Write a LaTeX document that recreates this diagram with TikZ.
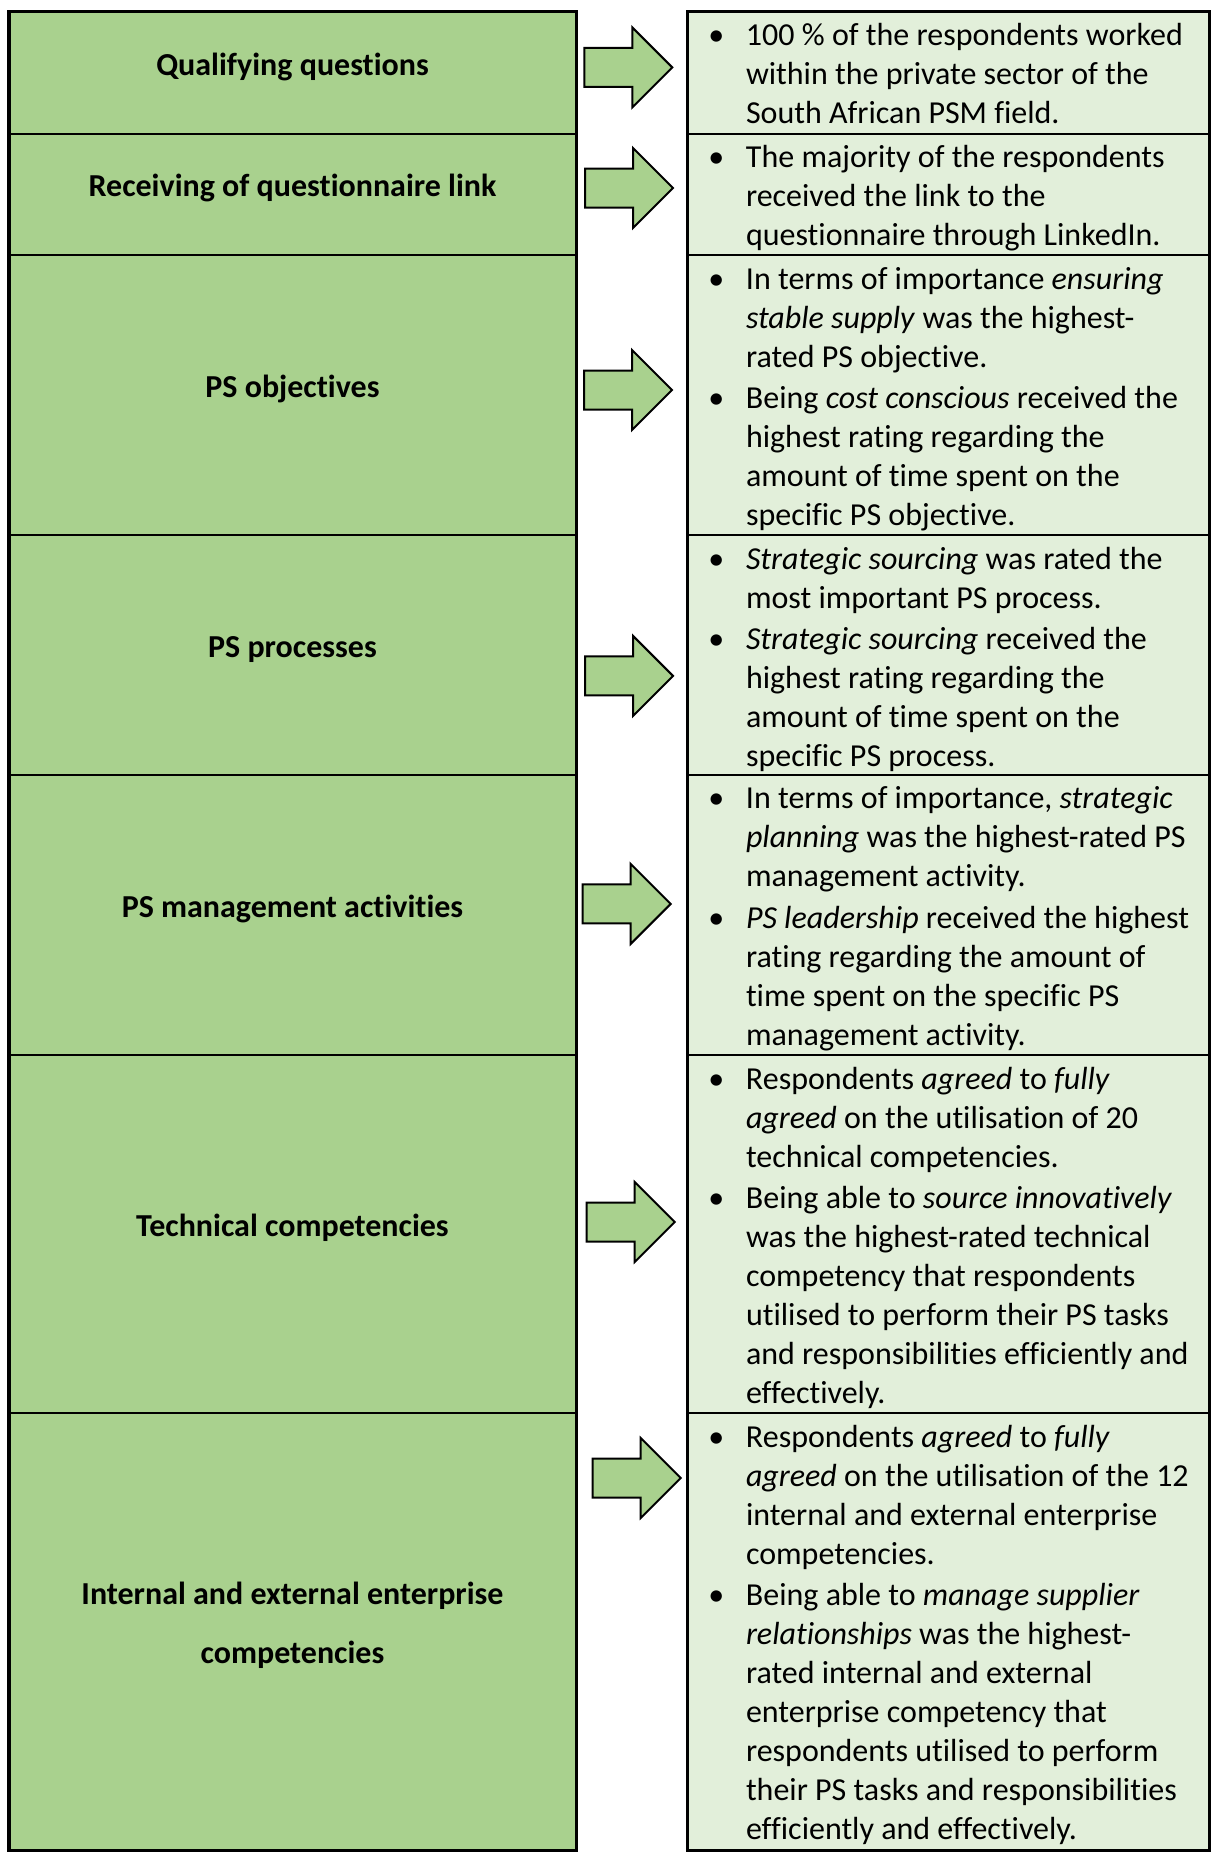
\documentclass[tikz,border=0pt]{standalone}
\usepackage{fontspec}
\setmainfont{Carlito}[Ligatures={NoCommon,NoContextual,NoRequired,NoRare}]
\usetikzlibrary{fit}
\definecolor{cellgreen}{HTML}{A9D18E}
\definecolor{palegreen}{HTML}{E2EFDA}
% bullet column of the findings lists
\newcommand{\blt}{\makebox[22.8pt][l]{\makebox[16pt]{\textbullet}}}
\newcommand{\gap}{\\[1.3pt]}

\begin{document}
\begin{tikzpicture}[x=0.5pt,y=-0.5pt,
  leftcell/.style={draw=black, line width=1pt, fill=cellgreen, inner sep=0pt},
  rightcell/.style={draw=black, line width=1pt, fill=palegreen, inner sep=0pt},
  heading/.style={font=\fontsize{16}{29.5}\selectfont\bfseries, align=center, anchor=base, inner sep=0pt, yshift=-1.2pt},
  notes/.style={font=\fontsize{16}{19.5}\selectfont, anchor=north west, inner sep=0pt},
  frame/.style={draw=black, line width=1.3pt},
  fatarrow/.pic={\draw[line width=1pt, fill=cellgreen, line join=miter]
     (0,-19.5) -- (48,-19.5) -- (48,-40) -- (88,0) -- (48,40) -- (48,19.5) -- (0,19.5) -- cycle;}
]
\useasboundingbox (0,0) rectangle (1210,1852);

% topic column
\node[leftcell, fit={(9.5,12) (575.5,133.5)}]     (l1) {};
\node[leftcell, fit={(9.5,133.5) (575.5,255.2)}]  (l2) {};
\node[leftcell, fit={(9.5,255.2) (575.5,535.3)}]  (l3) {};
\node[leftcell, fit={(9.5,535.3) (575.5,775.1)}]  (l4) {};
\node[leftcell, fit={(9.5,775.1) (575.5,1055.2)}] (l5) {};
\node[leftcell, fit={(9.5,1055.2) (575.5,1413.2)}](l6) {};
\node[leftcell, fit={(9.5,1413.2) (575.5,1850)}]  (l7) {};
\draw[frame] (l1.north west) rectangle (l7.south east);

% findings column
\node[rightcell, fit={(688.3,12) (1208.8,133.5)}]     (r1) {};
\node[rightcell, fit={(688.3,133.5) (1208.8,255.2)}]  (r2) {};
\node[rightcell, fit={(688.3,255.2) (1208.8,535.3)}]  (r3) {};
\node[rightcell, fit={(688.3,535.3) (1208.8,775.1)}]  (r4) {};
\node[rightcell, fit={(688.3,775.1) (1208.8,1055.2)}] (r5) {};
\node[rightcell, fit={(688.3,1055.2) (1208.8,1413.2)}](r6) {};
\node[rightcell, fit={(688.3,1413.2) (1208.8,1850)}]  (r7) {};
\draw[frame] (r1.north west) rectangle (r7.south east);

% topic headings
\node[heading] (h1) at (l1.center) {Qualifying questions};
\node[heading] (h2) at (l2.center) {Receiving of questionnaire link};
\node[heading] (h3) at (l3.center) {PS objectives};
\node[heading] (h4) at (l4.center) {PS processes};
\node[heading] (h5) at (l5.center) {PS management activities};
\node[heading] (h6) at (l6.center) {Technical competencies};
\node[heading] (h7) at ([yshift=-14.75pt]l7.center) {Internal and external enterprise\\competencies};

% arrows
\pic at (584.3,67.4)  {fatarrow};
\pic at (585,188)     {fatarrow};
\pic at (584,390)     {fatarrow};
\pic at (585,675.9)   {fatarrow};
\pic at (582.7,903.9) {fatarrow};
\pic at (586.7,1222)  {fatarrow};
\pic at (592.7,1478)  {fatarrow};

% findings
\node[notes] (n1) at (700,18.1) {\begin{tabular}{@{}l@{}l@{}}
\blt & 100 \% of the respondents worked\\
 & within the private sector of the\\
 & South African PSM field.
\end{tabular}};
\node[notes] (n2) at (700,139.6) {\begin{tabular}{@{}l@{}l@{}}
\blt & The majority of the respondents\\
 & received the link to the\\
 & questionnaire through LinkedIn.
\end{tabular}};
\node[notes] (n3) at (700,261.3) {\begin{tabular}{@{}l@{}l@{}}
\blt & In terms of importance \textit{ensuring}\\
 & \textit{stable supply} was the highest-\\
 & rated PS objective.\gap
\blt & Being \textit{cost conscious} received the\\
 & highest rating regarding the\\
 & amount of time spent on the\\
 & specific PS objective.
\end{tabular}};
\node[notes] (n4) at (700,541.4) {\begin{tabular}{@{}l@{}l@{}}
\blt & \textit{Strategic sourcing} was rated the\\
 & most important PS process.\gap
\blt & \textit{Strategic sourcing} received the\\
 & highest rating regarding the\\
 & amount of time spent on the\\
 & specific PS process.
\end{tabular}};
\node[notes] (n5) at (700,781.2) {\begin{tabular}{@{}l@{}l@{}}
\blt & In terms of importance, \textit{strategic}\\
 & \textit{planning} was the highest-rated PS\\
 & management activity.\gap
\blt & \textit{PS leadership} received the highest\\
 & rating regarding the amount of\\
 & time spent on the specific PS\\
 & management activity.
\end{tabular}};
\node[notes] (n6) at (700,1061.3) {\begin{tabular}{@{}l@{}l@{}}
\blt & Respondents \textit{agreed} to \textit{fully}\\
 & \textit{agreed} on the utilisation of 20\\
 & technical competencies.\gap
\blt & Being able to \textit{source innovatively}\\
 & was the highest-rated technical\\
 & competency that respondents\\
 & utilised to perform their PS tasks\\
 & and responsibilities efficiently and\\
 & effectively.
\end{tabular}};
\node[notes] (n7) at (700,1419.3) {\begin{tabular}{@{}l@{}l@{}}
\blt & Respondents \textit{agreed} to \textit{fully}\\
 & \textit{agreed} on the utilisation of the 12\\
 & internal and external enterprise\\
 & competencies.\gap
\blt & Being able to \textit{manage supplier}\\
 & \textit{relationships} was the highest-\\
 & rated internal and external\\
 & enterprise competency that\\
 & respondents utilised to perform\\
 & their PS tasks and responsibilities\\
 & efficiently and effectively.
\end{tabular}};
\end{tikzpicture}
\end{document}
